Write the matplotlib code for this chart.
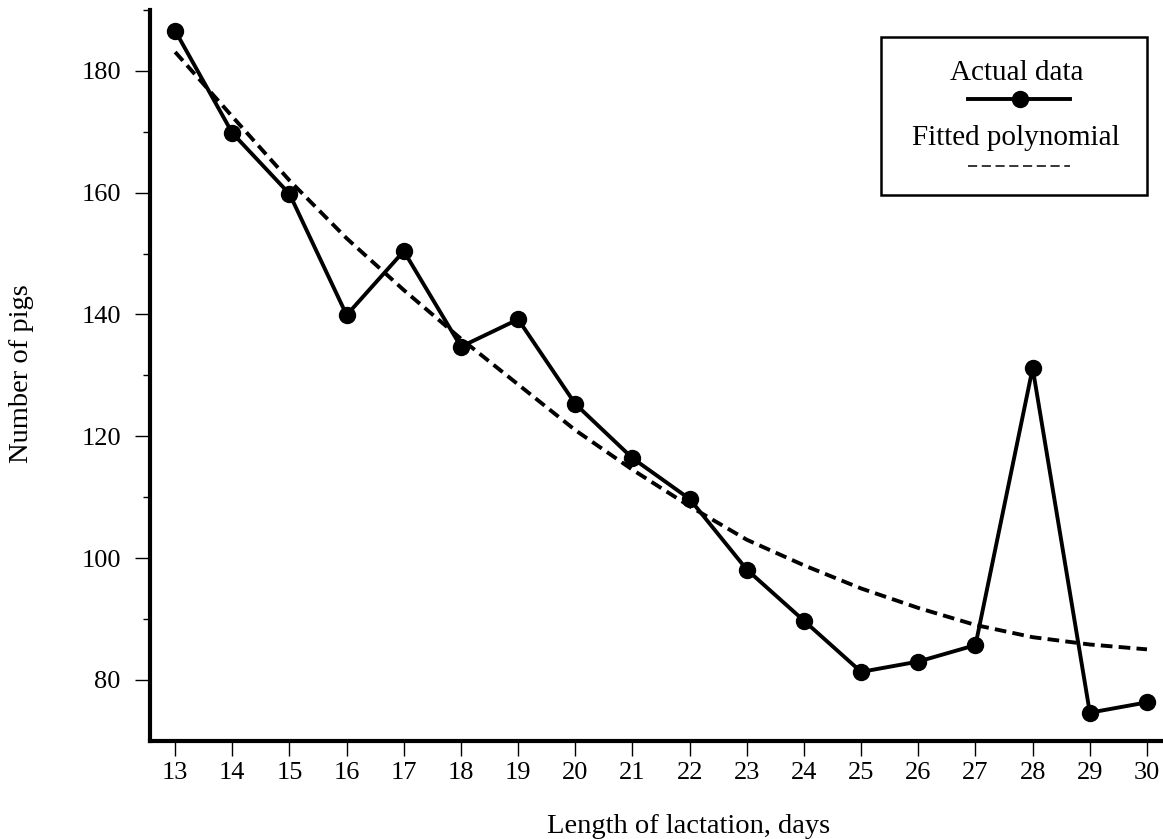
import matplotlib
matplotlib.use("Agg")
import matplotlib.pyplot as plt
from matplotlib.lines import Line2D
from matplotlib.patches import Rectangle

# lactation length (days) and number of pigs
days = [13, 14, 15, 16, 17, 18, 19, 20, 21, 22, 23, 24, 25, 26, 27, 28, 29, 30]
pigs = [186.6, 169.8, 159.8, 139.9, 150.4, 134.7, 139.2, 125.3, 116.4, 109.7,
        98.1, 89.7, 81.3, 83.0, 85.7, 131.2, 74.6, 76.3]
# fitted polynomial evaluated at each day
fitted = [183.1, 172.5, 162.0, 152.5, 144.0, 136.0, 128.5, 121.0, 114.5, 108.5,
          103.0, 98.8, 95.0, 91.8, 89.0, 87.0, 85.8, 85.0]

plt.rcParams['font.family'] = ['Liberation Serif', 'DejaVu Serif']

W, H = 1163, 839
fig = plt.figure(figsize=(W / 100, H / 100), dpi=100)
ax = fig.add_axes([150 / W, 1 - 740.7 / H, 1 - 150 / W, (740.7 - 10) / H])

ax.plot(days, fitted, color='black', lw=2.8, ls=(0, (3.0, 1.6)), zorder=2)
ax.plot(days, pigs, color='black', lw=2.8, marker='o', ms=11.5, zorder=3)

ax.set_xlim(12.56, 30.28)
ax.set_ylim(70, 190)
ax.set_xticks(days)
ax.set_yticks([80, 100, 120, 140, 160, 180])
ax.set_yticks([90, 110, 130, 150, 170, 190], minor=True)

for s in ['top', 'right']:
    ax.spines[s].set_visible(False)
for s in ['left', 'bottom']:
    ax.spines[s].set_linewidth(3)

ax.tick_params(axis='both', which='major', direction='out', length=11, width=1,
               labelsize=19)
ax.tick_params(axis='y', which='major', pad=10)
ax.tick_params(axis='x', which='major', pad=4)
ax.tick_params(axis='y', which='minor', direction='out', length=5, width=1)

fig.text(689 / W, 1 - 833 / H, 'Length of lactation, days', ha='center',
         va='baseline', fontsize=20.5)
fig.text(22 / W, 1 - 374 / H, 'Number of pigs', ha='center', va='center',
         rotation=90, fontsize=20.5)

# legend box
fig.patches.append(Rectangle((880.7 / W, 1 - 195 / H), 266 / W, 158.3 / H,
                             transform=fig.transFigure, fill=False,
                             edgecolor='black', lw=1.8))
fig.text(1017 / W, 1 - 80 / H, 'Actual data', ha='center', va='baseline', fontsize=21)
fig.lines.append(Line2D([968 / W, 1070 / W], [1 - 98.7 / H, 1 - 98.7 / H],
                        transform=fig.transFigure, color='black', lw=2.8))
fig.lines.append(Line2D([1020 / W], [1 - 98.7 / H], transform=fig.transFigure,
                        color='black', marker='o', ms=11.5))
fig.text(1016 / W, 1 - 145 / H, 'Fitted polynomial', ha='center', va='baseline', fontsize=21)
fig.lines.append(Line2D([968 / W, 1070 / W], [1 - 166 / H, 1 - 166 / H],
                        transform=fig.transFigure, color='black', lw=1.1,
                        ls=(0, (6, 3))))

fig.savefig('out.png', dpi=100)
